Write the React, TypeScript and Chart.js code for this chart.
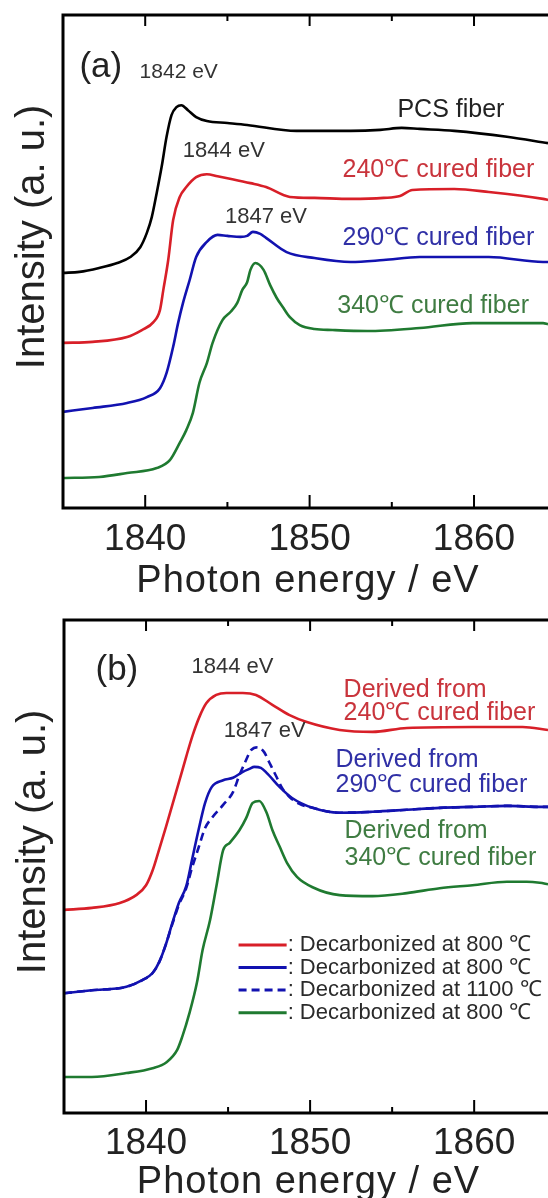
import { useEffect, useRef } from 'react';
import { Chart, registerables } from 'chart.js';

Chart.register(...registerables);

// ---------- Panel (a): fibers ----------
const energyPCS = [1835.0, 1836.0, 1837.2, 1838.3, 1839.1, 1839.7, 1840.1, 1840.4, 1840.7, 1841.0, 1841.3, 1841.6, 1841.9, 1842.2, 1842.6, 1843.1, 1843.75, 1845.0, 1846.2, 1849.2, 1852.5, 1854.3, 1855.6, 1856.7, 1858.8, 1862.0, 1864.5];
const intensityPCS = [47.7, 47.9, 48.7, 49.7, 50.9, 52.9, 55.8, 59.0, 63.9, 69.2, 75.3, 79.7, 81.3, 81.7, 80.7, 79.3, 78.5, 78.1, 77.7, 76.5, 76.5, 76.7, 77.1, 76.9, 76.5, 75.3, 74.0];

const energy240 = [1835.0, 1836.8, 1838.9, 1839.8, 1840.5, 1840.9, 1841.1, 1841.4, 1841.7, 1842.1, 1842.5, 1843.1, 1843.75, 1844.4, 1845.3, 1846.4, 1847.35, 1848.8, 1850.3, 1852.5, 1854.5, 1855.5, 1856.25, 1858.8, 1860.9, 1864.2, 1864.5];
const intensity240 = [33.5, 33.7, 34.7, 36.1, 37.7, 40.2, 44.2, 50.3, 58.4, 63.1, 65.1, 67.1, 67.7, 67.3, 66.7, 65.9, 65.1, 63.1, 62.9, 62.7, 62.9, 63.3, 64.5, 64.7, 64.1, 62.7, 62.5];

const energy290 = [1835.0, 1836.8, 1838.9, 1840.1, 1840.9, 1841.3, 1841.7, 1842.0, 1842.3, 1842.7, 1843.1, 1843.75, 1844.4, 1845.0, 1845.8, 1846.2, 1846.55, 1847.0, 1847.35, 1848.6, 1850.3, 1852.5, 1854.5, 1856.7, 1860.9, 1864.2, 1864.5];
const intensity290 = [19.5, 20.3, 21.3, 22.5, 24.3, 27.4, 32.7, 37.5, 41.6, 46.2, 50.9, 54.0, 55.4, 55.2, 55.0, 55.2, 56.0, 55.6, 54.8, 51.9, 50.7, 49.9, 50.3, 50.9, 50.9, 49.9, 49.9];

const energy340 = [1835.0, 1837.2, 1838.9, 1840.7, 1841.5, 1842.1, 1842.5, 1842.9, 1843.3, 1843.75, 1844.1, 1844.7, 1845.2, 1845.6, 1845.9, 1846.2, 1846.4, 1846.7, 1847.2, 1847.6, 1848.0, 1848.4, 1848.8, 1849.4, 1850.3, 1851.4, 1853.5, 1856.7, 1859.9, 1864.2, 1864.5];
const intensity340 = [6.1, 6.3, 7.1, 8.1, 9.7, 13.2, 15.8, 19.3, 25.4, 29.4, 33.5, 38.1, 39.8, 41.6, 44.2, 45.8, 48.3, 49.7, 48.3, 45.2, 42.6, 40.6, 38.7, 37.1, 36.3, 36.1, 35.9, 36.5, 37.5, 37.5, 37.3];

// ---------- Panel (b): decarbonized fibers ----------
const energyD240 = [1835.0, 1836.7, 1838.4, 1839.4, 1840.0, 1840.41, 1840.82, 1841.22, 1841.63, 1842.04, 1842.45, 1842.85, 1843.26, 1843.67, 1844.28, 1844.9, 1845.9, 1846.7, 1847.7, 1848.75, 1849.8, 1851.8, 1853.8, 1855.9, 1859.9, 1862.95, 1864.5];
const intensityD240 = [41.2, 41.6, 42.6, 44.2, 46.2, 49.3, 53.7, 58.1, 62.8, 67.5, 72.3, 76.7, 80.4, 83.1, 84.8, 85.2, 85.2, 84.8, 82.8, 80.7, 79.3, 77.7, 77.3, 78.1, 78.3, 78.3, 77.7];

const energyD290 = [1835.0, 1836.7, 1838.8, 1839.8, 1840.4, 1840.8, 1841.2, 1841.6, 1842.0, 1842.45, 1842.8, 1843.2, 1843.6, 1844.0, 1844.7, 1845.3, 1845.9, 1846.3, 1846.6, 1847.0, 1847.35, 1848.15, 1848.9, 1850.15, 1851.8, 1853.8, 1855.9, 1857.9, 1859.9, 1862.0, 1864.0, 1864.5];
const intensityD290 = [24.3, 24.9, 25.6, 27.0, 28.4, 30.6, 34.1, 38.5, 42.6, 46.0, 51.3, 57.4, 62.9, 66.1, 67.5, 68.0, 69.2, 69.8, 70.2, 70.0, 69.0, 66.1, 63.9, 61.9, 60.9, 61.1, 61.5, 61.9, 62.1, 62.3, 62.1, 62.1];

const energyD290h = [1835.0, 1836.7, 1838.8, 1839.8, 1840.4, 1840.8, 1841.2, 1841.6, 1842.0, 1842.45, 1842.8, 1843.2, 1843.6, 1844.0, 1844.7, 1845.3, 1845.7, 1846.1, 1846.4, 1846.8, 1847.2, 1847.5, 1847.95, 1848.3, 1848.75, 1849.35, 1850.15, 1851.8, 1853.8, 1855.9, 1857.9, 1859.9, 1862.0, 1864.0, 1864.5];
const intensityD290h = [24.3, 24.9, 25.6, 27.0, 28.4, 30.6, 34.1, 38.3, 42.2, 45.6, 49.7, 53.8, 57.8, 59.8, 62.5, 65.1, 68.6, 71.6, 73.6, 74.2, 73.2, 71.2, 68.2, 65.9, 64.1, 62.7, 61.9, 60.9, 61.1, 61.5, 61.9, 62.1, 62.3, 62.1, 62.1];

const energyD340 = [1835.0, 1836.7, 1838.8, 1840.4, 1841.25, 1841.9, 1842.2, 1842.65, 1843.1, 1843.45, 1843.9, 1844.3, 1844.7, 1845.1, 1845.7, 1846.1, 1846.5, 1846.9, 1847.35, 1847.7, 1848.15, 1848.6, 1849.2, 1850.15, 1851.8, 1853.8, 1855.9, 1857.9, 1859.9, 1862.0, 1863.2, 1864.0, 1864.5];
const intensityD340 = [7.3, 7.3, 8.1, 9.1, 10.3, 12.8, 15.4, 20.3, 26.4, 33.1, 39.1, 46.2, 53.3, 54.8, 57.4, 59.8, 62.9, 63.3, 60.9, 57.4, 54.0, 50.7, 47.9, 45.8, 44.2, 44.0, 44.6, 45.6, 46.2, 46.9, 46.9, 46.7, 46.4];

// ---------- Axes ----------
const xMin = 1835;
const xMax = 1864.5;
const xTickValues = [1840, 1850, 1860];
const xMinorTickValues = [1845, 1855];
const xTitle = 'Photon energy / eV';
const yTitle = 'Intensity (a. u.)';

const legendLabelsB = [': Decarbonized at 800 \u2103', ': Decarbonized at 800 \u2103', ': Decarbonized at 1100 \u2103', ': Decarbonized at 800 \u2103'];

const FONT = "'Liberation Sans', Arial, Helvetica, sans-serif";
const RED = '#d81f28';
const BLUE = '#1212b0';
const GREEN = '#1f7a30';
const BLACK = '#000000';

type Note = { text: string; x: number; y: number; color: string; size: number };

const notesA: Note[] = [
  { text: '(a)', x: 1836.0, y: 87.4, color: '#222', size: 35 },
  { text: '1842 eV', x: 1839.66, y: 87.2, color: '#333', size: 21 },
  { text: '1844 eV', x: 1842.29, y: 71.2, color: '#333', size: 22 },
  { text: '1847 eV', x: 1844.85, y: 57.8, color: '#333', size: 22 },
  { text: 'PCS fiber', x: 1855.34, y: 79.3, color: '#222', size: 25 },
  { text: '240\u2103 cured fiber', x: 1852.0, y: 67.1, color: '#c9343c', size: 25 },
  { text: '290\u2103 cured fiber', x: 1852.0, y: 53.3, color: '#3030a6', size: 25 },
  { text: '340\u2103 cured fiber', x: 1851.68, y: 39.6, color: '#3f7c42', size: 25 },
];

const notesB: Note[] = [
  { text: '(b)', x: 1836.92, y: 87.8, color: '#222', size: 35 },
  { text: '1844 eV', x: 1842.77, y: 89.2, color: '#333', size: 22 },
  { text: '1847 eV', x: 1844.73, y: 76.3, color: '#333', size: 22 },
  { text: 'Derived from', x: 1852.04, y: 84.4, color: '#c9343c', size: 25 },
  { text: '240\u2103 cured fiber', x: 1852.04, y: 79.7, color: '#c9343c', size: 25 },
  { text: 'Derived from', x: 1851.55, y: 70.2, color: '#3030a6', size: 25 },
  { text: '290\u2103 cured fiber', x: 1851.55, y: 65.1, color: '#3030a6', size: 25 },
  { text: 'Derived from', x: 1852.1, y: 55.8, color: '#3f7c42', size: 25 },
  { text: '340\u2103 cured fiber', x: 1852.1, y: 50.3, color: '#3f7c42', size: 25 },
];

type Panel = {
  notes: Note[];
  yAxisWidth: number;
  topPad: number;
  xAxisHeight: number;
  tickPad: number;
  titleBaselineOffset: number;
  legend: boolean;
};

function line(label: string, xs: number[], ys: number[], color: string, dash: number[] = []) {
  return {
    label,
    data: xs.map((x, i) => ({ x, y: ys[i] })),
    borderColor: color,
    backgroundColor: color,
    borderWidth: 2.6,
    borderDash: dash,
    pointRadius: 0,
    cubicInterpolationMode: 'monotone' as const,
    fill: false,
  };
}

function makeDecor(panel: Panel) {
  return {
    id: 'decor',
    afterDatasetsDraw(chart: any) {
      const { ctx, chartArea: a, scales } = chart;
      const xs = scales.x;
      const ys = scales.y;
      ctx.save();
      // frame
      ctx.strokeStyle = '#000';
      ctx.lineWidth = 3;
      ctx.lineCap = 'square';
      ctx.beginPath();
      ctx.moveTo(a.right + 10, a.top);
      ctx.lineTo(a.left, a.top);
      ctx.lineTo(a.left, a.bottom);
      ctx.lineTo(a.right + 10, a.bottom);
      ctx.stroke();
      // ticks
      ctx.lineWidth = 2;
      ctx.lineCap = 'butt';
      const drawTick = (v: number, major: boolean) => {
        const px = xs.getPixelForValue(v);
        ctx.beginPath();
        ctx.moveTo(px, a.bottom);
        ctx.lineTo(px, a.bottom - (major ? 13 : 6));
        ctx.moveTo(px, a.top);
        ctx.lineTo(px, a.top + (major ? 11 : 6));
        ctx.stroke();
      };
      xTickValues.forEach((v) => drawTick(v, true));
      xMinorTickValues.forEach((v) => drawTick(v, false));
      // y title
      ctx.fillStyle = '#222';
      ctx.font = `40px ${FONT}`;
      ctx.textAlign = 'center';
      ctx.textBaseline = 'alphabetic';
      ctx.save();
      ctx.translate(a.left - 19.5, ys.getPixelForValue(55));
      ctx.rotate(-Math.PI / 2);
      ctx.fillText(yTitle, 0, 0);
      ctx.restore();
      // x title
      ctx.font = `38px ${FONT}`;
      (ctx as any).letterSpacing = '1px';
      ctx.fillText(xTitle, xs.getPixelForValue(1849.9), a.bottom + panel.titleBaselineOffset);
      (ctx as any).letterSpacing = '0px';
      // notes
      ctx.textAlign = 'left';
      panel.notes.forEach((n) => {
        ctx.font = `${n.size}px ${FONT}`;
        ctx.fillStyle = n.color;
        ctx.fillText(n.text, xs.getPixelForValue(n.x), ys.getPixelForValue(n.y));
      });
      // legend (panel b)
      if (panel.legend) {
        const order = [0, 1, 2, 3];
        const x0 = xs.getPixelForValue(1845.64);
        const x1 = xs.getPixelForValue(1848.57);
        const yStart = ys.getPixelForValue(34.1);
        ctx.font = `22px ${FONT}`;
        ctx.textBaseline = 'middle';
        order.forEach((di, row) => {
          const ds = chart.data.datasets[di];
          const yy = yStart + row * 22.6;
          ctx.strokeStyle = ds.borderColor;
          ctx.lineWidth = 3;
          ctx.setLineDash(ds.borderDash || []);
          ctx.beginPath();
          ctx.moveTo(x0, yy);
          ctx.lineTo(x1, yy);
          ctx.stroke();
          ctx.setLineDash([]);
          ctx.fillStyle = '#2a2a2a';
          ctx.fillText(ds.label, x1 + 1, yy);
        });
      }
      ctx.restore();
    },
  };
}

function makeConfig(datasets: any[], panel: Panel): any {
  return {
    type: 'line',
    data: { datasets },
    options: {
      animation: false,
      responsive: false,
      maintainAspectRatio: false,
      events: [],
      layout: { padding: { top: panel.topPad, right: 0, left: 0, bottom: 0 } },
      plugins: { legend: { display: false }, tooltip: { enabled: false }, title: { display: false } },
      scales: {
        x: {
          type: 'linear',
          min: xMin,
          max: xMax,
          position: 'bottom',
          grid: { display: false, drawTicks: false },
          border: { display: false },
          afterBuildTicks: (scale: any) => {
            scale.ticks = xTickValues.map((v) => ({ value: v }));
          },
          afterFit: (scale: any) => {
            scale.height = panel.xAxisHeight;
          },
          ticks: {
            autoSkip: false,
            maxRotation: 0,
            padding: panel.tickPad,
            color: '#222',
            font: { family: FONT, size: 37 },
            callback: (v: any) => String(v),
          },
        },
        y: {
          type: 'linear',
          min: 0,
          max: 100,
          grid: { display: false, drawTicks: false },
          border: { display: false },
          ticks: { display: false },
          afterFit: (scale: any) => {
            scale.width = panel.yAxisWidth;
          },
        },
      },
    },
    plugins: [makeDecor(panel)],
  };
}

function PanelChart({ datasets, panel, width, height, top }: { datasets: any[]; panel: Panel; width: number; height: number; top: number }) {
  const ref = useRef<HTMLCanvasElement | null>(null);
  useEffect(() => {
    if (!ref.current) return;
    const chart = new Chart(ref.current, makeConfig(datasets, panel));
    return () => chart.destroy();
  }, []);
  return (
    <canvas
      ref={ref}
      width={width}
      height={height}
      style={{ position: 'absolute', left: 0, top, width, height, display: 'block' }}
    />
  );
}

const panelA: Panel = { notes: notesA, yAxisWidth: 63, topPad: 15, xAxisHeight: 92, tickPad: 10, titleBaselineOffset: 84, legend: false };
const panelB: Panel = { notes: notesB, yAxisWidth: 64, topPad: 20, xAxisHeight: 85, tickPad: 9, titleBaselineOffset: 80, legend: true };

export default function App() {
  const datasetsA = [
    line('PCS fiber', energyPCS, intensityPCS, BLACK),
    line('240\u2103 cured fiber', energy240, intensity240, RED),
    line('290\u2103 cured fiber', energy290, intensity290, BLUE),
    line('340\u2103 cured fiber', energy340, intensity340, GREEN),
  ];
  const datasetsB = [
    line(legendLabelsB[0], energyD240, intensityD240, RED),
    line(legendLabelsB[1], energyD290, intensityD290, BLUE),
    line(legendLabelsB[2], energyD290h, intensityD290h, BLUE, [8, 5]),
    line(legendLabelsB[3], energyD340, intensityD340, GREEN),
  ];
  return (
    <div style={{ position: 'absolute', left: 0, top: 0, width: 548, height: 1198, background: '#fff', overflow: 'hidden' }}>
      <PanelChart datasets={datasetsA} panel={panelA} width={548} height={600} top={0} />
      <PanelChart datasets={datasetsB} panel={panelB} width={548} height={598} top={600} />
    </div>
  );
}
